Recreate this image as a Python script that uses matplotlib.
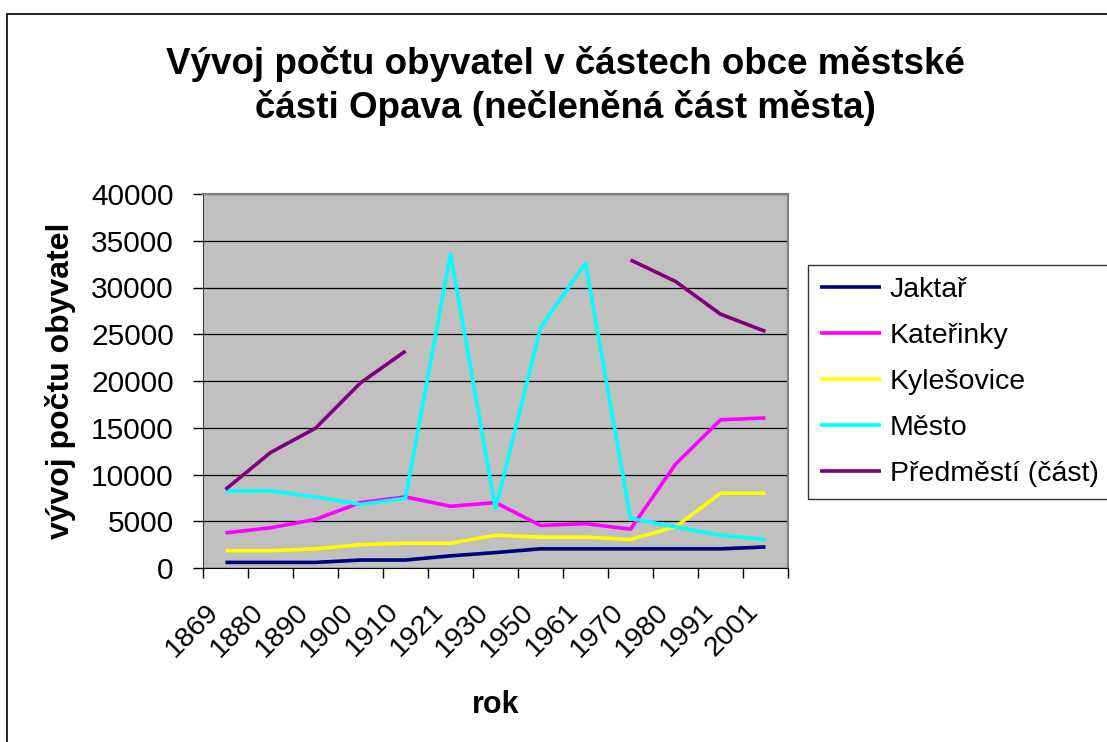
import numpy as np
import matplotlib
matplotlib.use("Agg")
import matplotlib.pyplot as plt
import matplotlib.transforms as mtransforms
from matplotlib.patches import Rectangle

plt.rcParams['font.family'] = ['Liberation Sans', 'DejaVu Sans']

years = ['1869', '1880', '1890', '1900', '1910', '1921', '1930',
         '1950', '1961', '1970', '1980', '1991', '2001']

jaktar = [600, 600, 600, 850, 850, 1300, 1650, 2050, 2050, 2050, 2050, 2050, 2250]
katerinky = [3750, 4300, 5200, 7000, 7600, 6600, 7000, 4550, 4750, 4150, 11100, 15850, 16050]
kylesovice = [1850, 1850, 2050, 2500, 2650, 2650, 3500, 3300, 3300, 3050, 4400, 8000, 8000]
mesto = [8250, 8250, 7600, 6800, 7450, 33600, 6350, 25700, 32600, 5300, 4400, 3500, 3050]
predmesti = [8400, 12350, 14950, 19800, 23200, np.nan, np.nan, np.nan, np.nan,
             32950, 30650, 27150, 25300]

series = [
    ('Jaktař', jaktar, '#000080'),
    ('Kateřinky', katerinky, '#FF00FF'),
    ('Kylešovice', kylesovice, '#FFFF00'),
    ('Město', mesto, '#00FFFF'),
    ('Předměstí (část)', predmesti, '#800080'),
]

W, H = 1107, 742
fig = plt.figure(figsize=(W / 100, H / 100), dpi=100)
fig.patches.append(Rectangle((7 / W, -0.05), 1.2, 1 - 14 / H + 0.05,
                             transform=fig.transFigure, fill=False,
                             edgecolor='black', linewidth=1.2))

ax = fig.add_axes([203 / W, 1 - 568 / H, (788 - 203) / W, (568 - 194) / H])
ax.set_facecolor('#C0C0C0')

x = np.arange(len(years))
for name, vals, col in series:
    ax.plot(x, vals, color=col, linewidth=2.6, label=name, solid_capstyle='butt')

ax.set_xlim(-0.5, len(years) - 0.5)
ax.set_ylim(0, 40000)
ax.set_yticks(np.arange(0, 40001, 5000))
ax.yaxis.grid(True, color='black', linewidth=0.9)
ax.set_axisbelow(True)
ax.tick_params(axis='y', labelsize=21.5, length=7, width=1, direction='out', pad=14)

ax.set_xticks(np.arange(-0.5, len(years), 1.0))
ax.set_xticklabels([])
ax.set_xticks(x, minor=True)
ax.set_xticklabels(years, minor=True, rotation=45, ha='right',
                   rotation_mode='anchor', fontsize=20.5)
ax.tick_params(axis='x', which='major', length=7, width=1, direction='out')
ax.tick_params(axis='x', which='minor', length=0, pad=22)
shift = mtransforms.ScaledTranslation(-0.2, 0, fig.dpi_scale_trans)
for lab in ax.get_xticklabels(minor=True):
    lab.set_transform(lab.get_transform() + shift)

for s in ['top', 'right']:
    ax.spines[s].set_color('#808080')
    ax.spines[s].set_linewidth(1.5)
ax.spines['left'].set_color('#404040')
ax.spines['bottom'].set_color('black')

ax.set_xlabel('rok', fontsize=22, fontweight='bold', va='center')
ax.xaxis.set_label_coords(0.5, -(705 - 568) / 374)
ax.set_ylabel('vývoj počtu obyvatel', fontsize=23, fontweight='bold', labelpad=11)

fig.text(565 / W, 1 - 86 / H,
         'Vývoj počtu obyvatel v částech obce městské\nčásti Opava (nečleněná část města)',
         ha='center', va='center', fontsize=26.5, fontweight='bold', linespacing=1.3)

leg = fig.legend(loc='upper left', bbox_to_anchor=(808 / W, 1 - 265 / H),
                 fontsize=20.5, frameon=True, fancybox=False, borderaxespad=0,
                 handlelength=2.15, handletextpad=0.3, labelspacing=0.7,
                 borderpad=0.42)
leg.get_frame().set_edgecolor('black')
leg.get_frame().set_linewidth(1)

fig.savefig('out.png', dpi=100)
